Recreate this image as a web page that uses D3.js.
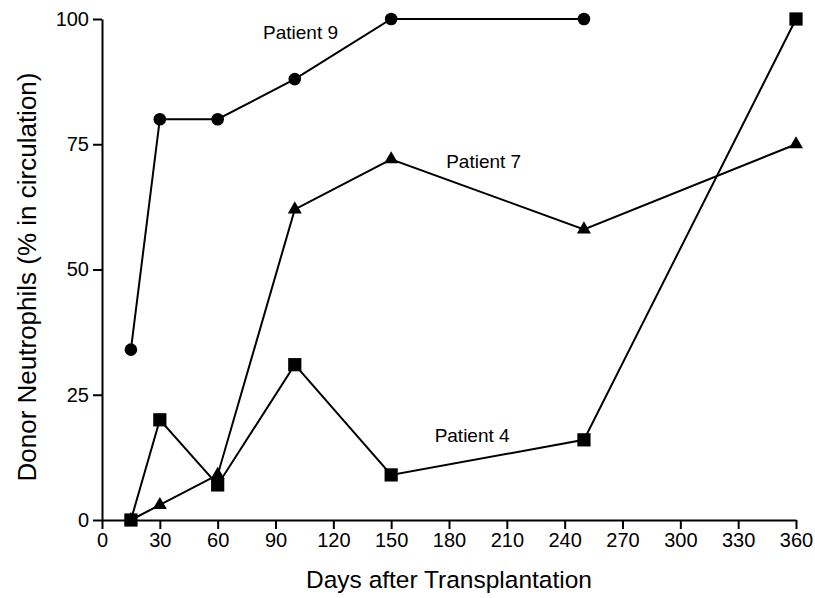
<!DOCTYPE html>
<html>
<head>
<meta charset="utf-8">
<script src="https://cdn.jsdelivr.net/npm/d3@7"></script>
<style>
  body { margin: 0; background: #fff; }
  svg { font-family: "Liberation Sans", Arial, sans-serif; }
</style>
</head>
<body>
<div id="chart"></div>
<script>
const W = 815, H = 598;
const margin = { left: 102, right: 19, top: 19, bottom: 78 };

const xTicks = [0, 30, 60, 90, 120, 150, 180, 210, 240, 270, 300, 330, 360];
const yTicks = [0, 25, 50, 75, 100];

const days9 = [15, 30, 60, 100, 150, 250];
const patient9 = [34, 80, 80, 88, 100, 100];
const days7 = [15, 30, 60, 100, 150, 250, 360];
const patient7 = [0, 3, 9, 62, 72, 58, 75];
const days4 = [15, 30, 60, 100, 150, 250, 360];
const patient4 = [0, 20, 7, 31, 9, 16, 100];

const series = [
  { name: 'Patient 4', days: days4, values: patient4, symbol: d3.symbolSquare, size: 175, label: [192, 15.6] },
  { name: 'Patient 7', days: days7, values: patient7, symbol: d3.symbolTriangle, size: 85, label: [198, 70.3] },
  { name: 'Patient 9', days: days9, values: patient9, symbol: d3.symbolCircle, size: 125, label: [103, 96] }
];

const svg = d3.select('#chart').append('svg')
  .attr('width', W).attr('height', H);

const x = d3.scaleLinear().domain([0, 360]).range([margin.left, W - margin.right]);
const y = d3.scaleLinear().domain([0, 100]).range([H - margin.bottom, margin.top]);

const xAxis = svg.append('g')
  .attr('transform', `translate(0,${y(0)})`)
  .call(d3.axisBottom(x).tickValues(xTicks).tickSize(9).tickSizeOuter(0).tickPadding(4));
const yAxis = svg.append('g')
  .attr('transform', `translate(${x(0)},0)`)
  .call(d3.axisLeft(y).tickValues(yTicks).tickSize(9).tickSizeOuter(0).tickPadding(4));

[xAxis, yAxis].forEach(a => {
  a.selectAll('path, line').attr('stroke', '#000').attr('stroke-width', 2);
  a.selectAll('text').attr('fill', '#000').style('font-size', '20px');
});

svg.append('text')
  .attr('x', (x(0) + x(360)) / 2).attr('y', 588)
  .attr('text-anchor', 'middle').style('font-size', '24.5px')
  .text('Days after Transplantation');

svg.append('text')
  .attr('transform', `translate(36,277) rotate(-90)`)
  .attr('text-anchor', 'middle').style('font-size', '26px')
  .text('Donor Neutrophils (% in circulation)');

const line = d3.line().x(d => x(d[0])).y(d => y(d[1]));

series.forEach(s => {
  const pts = s.days.map((d, i) => [d, s.values[i]]);
  svg.append('path')
    .attr('d', line(pts))
    .attr('fill', 'none').attr('stroke', '#000').attr('stroke-width', 2);
  svg.selectAll(null).data(pts).enter().append('path')
    .attr('transform', d => `translate(${x(d[0])},${y(d[1])})`)
    .attr('d', d3.symbol().type(s.symbol).size(s.size))
    .attr('fill', '#000');
  svg.append('text')
    .attr('x', x(s.label[0])).attr('y', y(s.label[1]))
    .attr('text-anchor', 'middle').style('font-size', '19px')
    .text(s.name);
});
</script>
</body>
</html>
